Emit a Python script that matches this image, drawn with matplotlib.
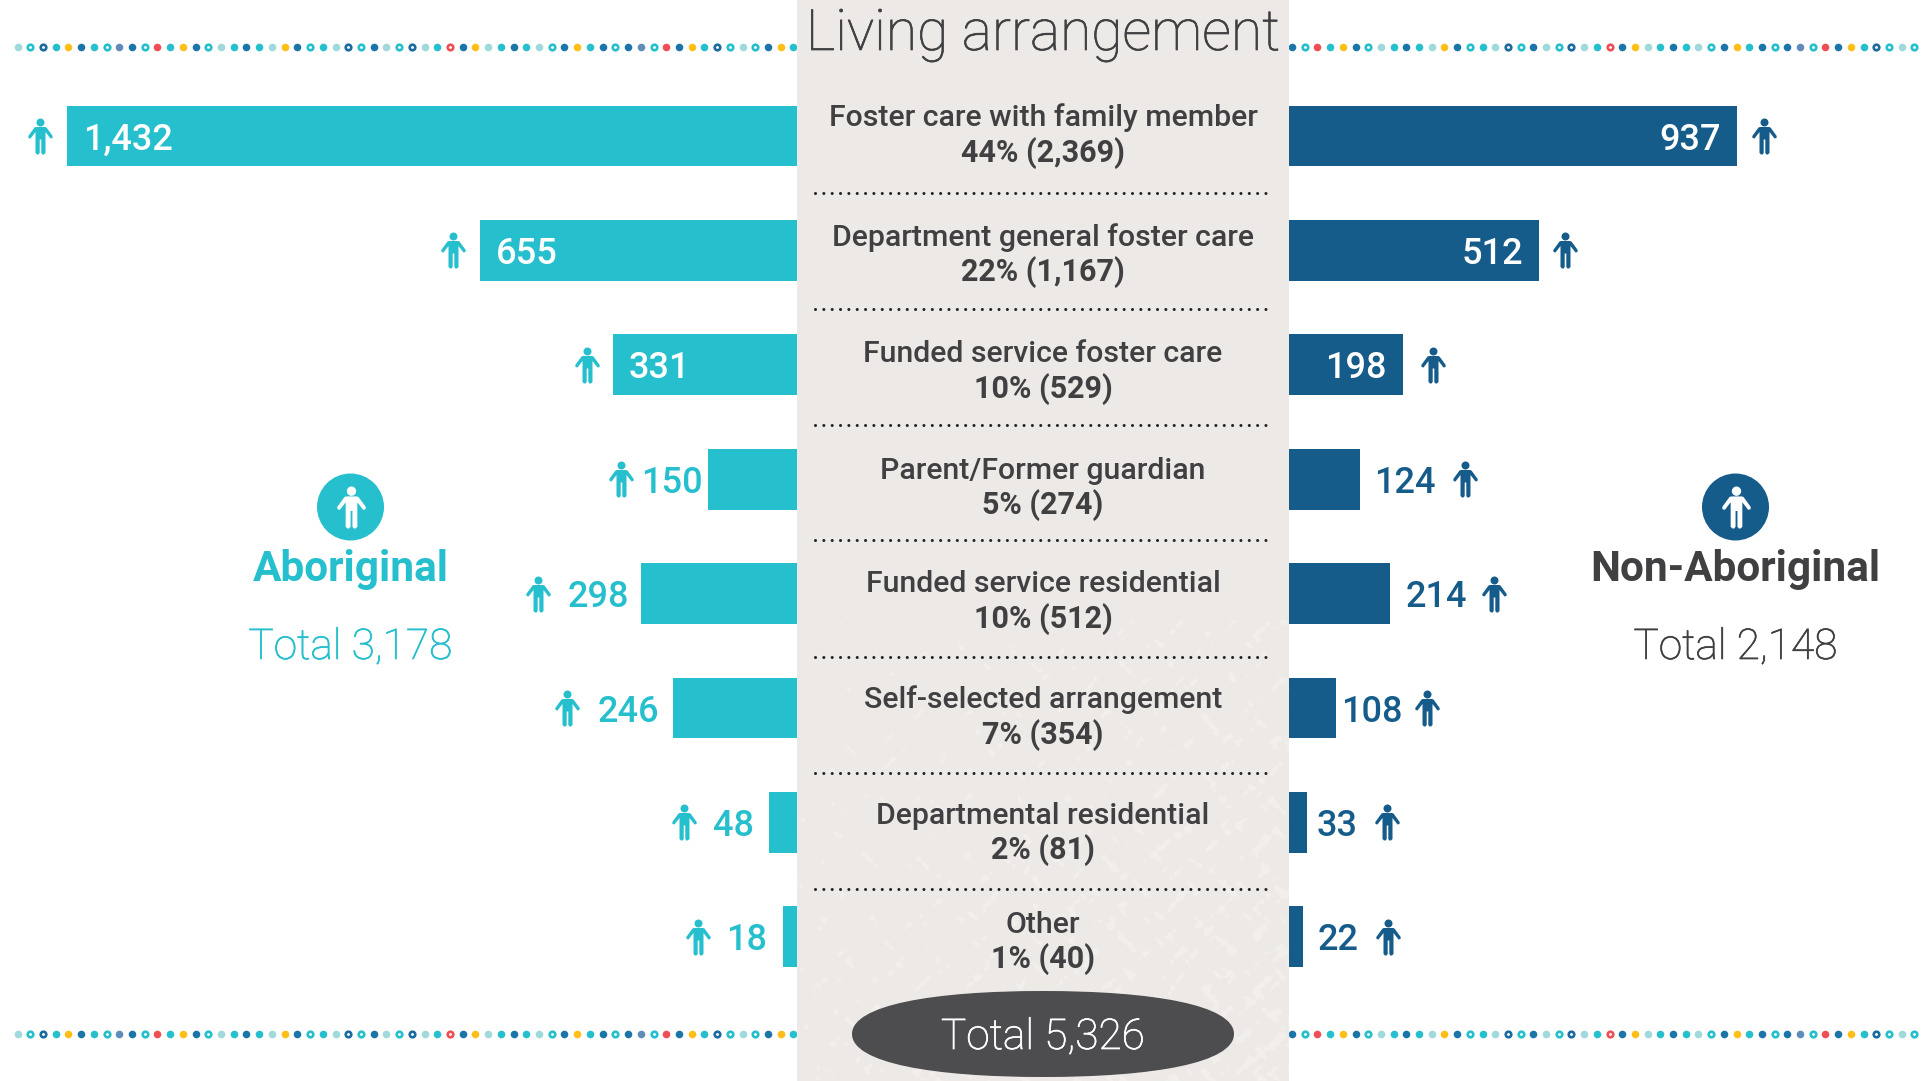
import numpy as np
import matplotlib
matplotlib.use("Agg")
import matplotlib.pyplot as plt
import matplotlib.patheffects as pe
from matplotlib.colors import to_rgb
from matplotlib.patches import Rectangle, Circle, PathPatch
from matplotlib.path import Path

plt.rcParams['font.family'] = ['Roboto', 'DejaVu Sans']

# data
categories = ["Foster care with family member", "Department general foster care",
              "Funded service foster care", "Parent/Former guardian",
              "Funded service residential", "Self-selected arrangement",
              "Departmental residential", "Other"]
shares = ["44% (2,369)", "22% (1,167)", "10% (529)", "5% (274)",
          "10% (512)", "7% (354)", "2% (81)", "1% (40)"]
aboriginal = [1432, 655, 331, 150, 298, 246, 48, 18]
non_aboriginal = [937, 512, 198, 124, 214, 108, 33, 22]
# the source graphic is hand drawn, its bars are not quite to scale,
# so these are the lengths (same units as the counts)
aboriginal_drawn = [1432, 622, 361, 175, 306, 243, 55, 27]
non_aboriginal_drawn = [937, 523, 238, 149, 211, 98, 38, 29]

dots_left = "LtbTYBTtSBtRTYBtLTBTLYBtTLbtBLtbLTrBYLTBTLtBYTBtBStRBYTbtLtBYT"
dots_right = "BtRTYBtLTBTLYBtTLbtBLtbLTrBYLTBTLtBYTBtBStRBYTbtLt"

# colours
TEAL = "#26BFCD"
NAVY = "#165C8A"
DARK = "#404042"
PANEL = "#ECE9E6"
dot_colors = {"L": "#9FD9DC", "T": "#26BFCD", "B": "#1B75A8", "S": "#5F8DB8",
              "Y": "#FDBE17", "R": "#EF4E55", "t": "#26BFCD", "b": "#1B6AA0",
              "r": "#EF4E55"}

W, H = 1930, 1081
PANEL_L, PANEL_R = 797, 1289
ROW_TOP, ROW_STEP = 136, 114.4
LEFT_SCALE, RIGHT_SCALE = 0.51, 0.478   # px per unit

fig = plt.figure(figsize=(W / 100, H / 100), dpi=100, facecolor="white")

# background layer in pixel coordinates
bg = fig.add_axes([0, 0, 1, 1], zorder=0)
bg.set_xlim(0, W)
bg.set_ylim(H, 0)
bg.axis("off")


def thicker(col):
    # roboto light comes out a bit too thin here
    return [pe.withStroke(linewidth=0.5, foreground=col)]


# dotted borders
for y in (47, 1034):
    for start, step, seq in ((17.5, 12.72, dots_left), (1292, 12.7, dots_right)):
        for i, c in enumerate(seq):
            if c in "tbr":
                bg.scatter(start + i * step, y, s=16, facecolor="white",
                           edgecolor=dot_colors[c], linewidth=1.9)
            else:
                bg.scatter(start + i * step, y, s=30, color=dot_colors[c], linewidth=0)

# middle panel
bg.add_patch(Rectangle((PANEL_L, 0), PANEL_R - PANEL_L, H, color=PANEL, lw=0, zorder=3))

# pale paper texture, stronger towards the bottom right
xx, yy = np.meshgrid(np.arange(PANEL_L, PANEL_R), np.arange(620, H))
wobble = (np.sin(xx * 0.13 + 2 * np.sin(yy * 0.09)) + np.sin(yy * 0.21 + 3 * np.sin(xx * 0.07))
          + np.sin(xx * 0.37 + 2 * np.sin(yy * 0.23)) + 0.6 * np.sin(yy * 0.53 + 2 * np.sin(xx * 0.41)))
limit = 3.0 - 1.1 * (yy - 620) / 460 - 1.3 * (xx - PANEL_L) / 492
tex = np.zeros(xx.shape + (4,))
tex[..., :3] = to_rgb("#F2F0EE")
tex[..., 3] = np.clip((wobble - limit) * 2, 0, 1) * 0.85
bg.imshow(tex, extent=(PANEL_L, PANEL_R, H, 620), origin="upper", aspect="auto",
          zorder=3.1, interpolation="bilinear")
bg.set_xlim(0, W)
bg.set_ylim(H, 0)

bg.text((PANEL_L + PANEL_R) / 2, 50, "Living arrangement", fontsize=41, weight="light",
        color=DARK, ha="center", va="baseline", zorder=5, path_effects=thicker(DARK))

line1_y = [125.5, 246, 362, 479, 592, 708, 824, 933]
line2_y = [161.5, 281, 398, 514, 628, 744, 859, 968]
for name, share, y1, y2 in zip(categories, shares, line1_y, line2_y):
    bg.text(1043, y1, name, fontsize=21.8, weight="medium", color=DARK, ha="center",
            va="baseline", zorder=5)
    bg.text(1043, y2, share, fontsize=22, weight="bold", color=DARK, ha="center",
            va="baseline", zorder=5)

for y in (193, 309, 425, 540, 657, 773, 889):
    bg.plot([815, 1273], [y, y], color="#222222", lw=2.2, linestyle=(0, (0.01, 2.72)),
            dash_capstyle="round", zorder=5)

# total pill
x0, x1, y0, y1 = 852, 1234, 991, 1077
xm, ym = (x0 + x1) / 2, (y0 + y1) / 2
pill = Path([(x0, ym), (x0, y0 + 14), (xm - 110, y0), (xm, y0),
             (xm + 110, y0), (x1, y0 + 14), (x1, ym),
             (x1, y1 - 14), (xm + 110, y1), (xm, y1),
             (xm - 110, y1), (x0, y1 - 14), (x0, ym)],
            [Path.MOVETO] + [Path.CURVE4] * 12)
bg.add_patch(PathPatch(pill, facecolor="#4D4D4F", edgecolor="none", zorder=6))
bg.text(xm, 1049, "Total 5,326", fontsize=30.5, weight="light", color="white",
        ha="center", va="baseline", zorder=7, path_effects=thicker("white"))

# person icon, px units, centred
body = [(-4.5, 9.5), (4.5, 9.5), (6, 9), (12.2, 0.5), (12, -1.5), (10, -2), (5, 4.5),
        (5, -16.5), (3.5, -18), (2, -18), (0.8, -16.5), (0.8, -3), (-0.8, -3), (-0.8, -16.5),
        (-2, -18), (-3.5, -18), (-5, -16.5), (-5, 4.5), (-10, -2), (-12, -1.5), (-12.2, 0.5),
        (-6, 9), (-4.5, 9.5)]
head = Path.circle((0, 14), 4)
person = Path.make_compound_path(head, Path(body, closed=True))


def person_size(px):
    return (px * 0.72) ** 2


# side headings
for cx, col, name, total, name_col, total_col in (
        (350.5, TEAL, "Aboriginal", "Total 3,178", TEAL, TEAL),
        (1735.5, NAVY, "Non-Aboriginal", "Total 2,148", DARK, DARK)):
    bg.add_patch(Circle((cx, 507), 33.5, color=col, lw=0))
    bg.scatter(cx, 507, marker=person, s=person_size(42), color="white", linewidth=0, zorder=4)
    bg.text(cx, 581, name, fontsize=30.5, weight="bold", color=name_col, ha="center", va="baseline")
    bg.text(cx, 659, total, fontsize=30.5, weight="light", color=total_col, ha="center",
            va="baseline", path_effects=thicker(total_col))

# bars
ylim = ((H - ROW_TOP) / ROW_STEP, -ROW_TOP / ROW_STEP)
rows = range(len(categories))

ax_l = fig.add_axes([0, 0, PANEL_L / W, 1], zorder=1)
ax_l.set_xlim(PANEL_L / LEFT_SCALE, 0)
ax_l.set_ylim(*ylim)
ax_l.axis("off")
ax_l.barh(rows, aboriginal_drawn, height=0.533, color=TEAL)

ax_r = fig.add_axes([PANEL_R / W, 0, (W - PANEL_R) / W, 1], zorder=1)
ax_r.set_xlim(0, (W - PANEL_R) / RIGHT_SCALE)
ax_r.set_ylim(*ylim)
ax_r.axis("off")
ax_r.barh(rows, non_aboriginal_drawn, height=0.533, color=NAVY)

# gaps from the bar end, px. first 3 labels sit inside the bars
left_text_gap = [-16, -16, -16, 5, 12, 14, 15, 16]
left_icon_gap = [27, 27, 26, 87, 103, 106, 85, 85]
right_text_gap = [-16, -16, -16, 14, 16, 5, 9, 15]
right_icon_gap = [27, 26, 30, 105, 104, 91, 80, 85]

for i in rows:
    inside = i < 3
    x = aboriginal_drawn[i]
    ax_l.text(x + left_text_gap[i] / LEFT_SCALE, i, f"{aboriginal[i]:,}", fontsize=26,
              weight="medium", color="white" if inside else TEAL,
              ha="left" if inside else "right", va="center_baseline")
    ax_l.scatter(x + left_icon_gap[i] / LEFT_SCALE, i, marker=person, s=person_size(36),
                 color=TEAL, linewidth=0, clip_on=False)

    x = non_aboriginal_drawn[i]
    ax_r.text(x + right_text_gap[i] / RIGHT_SCALE, i, f"{non_aboriginal[i]:,}", fontsize=26,
              weight="medium", color="white" if inside else NAVY,
              ha="right" if inside else "left", va="center_baseline")
    ax_r.scatter(x + right_icon_gap[i] / RIGHT_SCALE, i, marker=person, s=person_size(36),
                 color=NAVY, linewidth=0, clip_on=False)

fig.savefig("out.png", dpi=100)
